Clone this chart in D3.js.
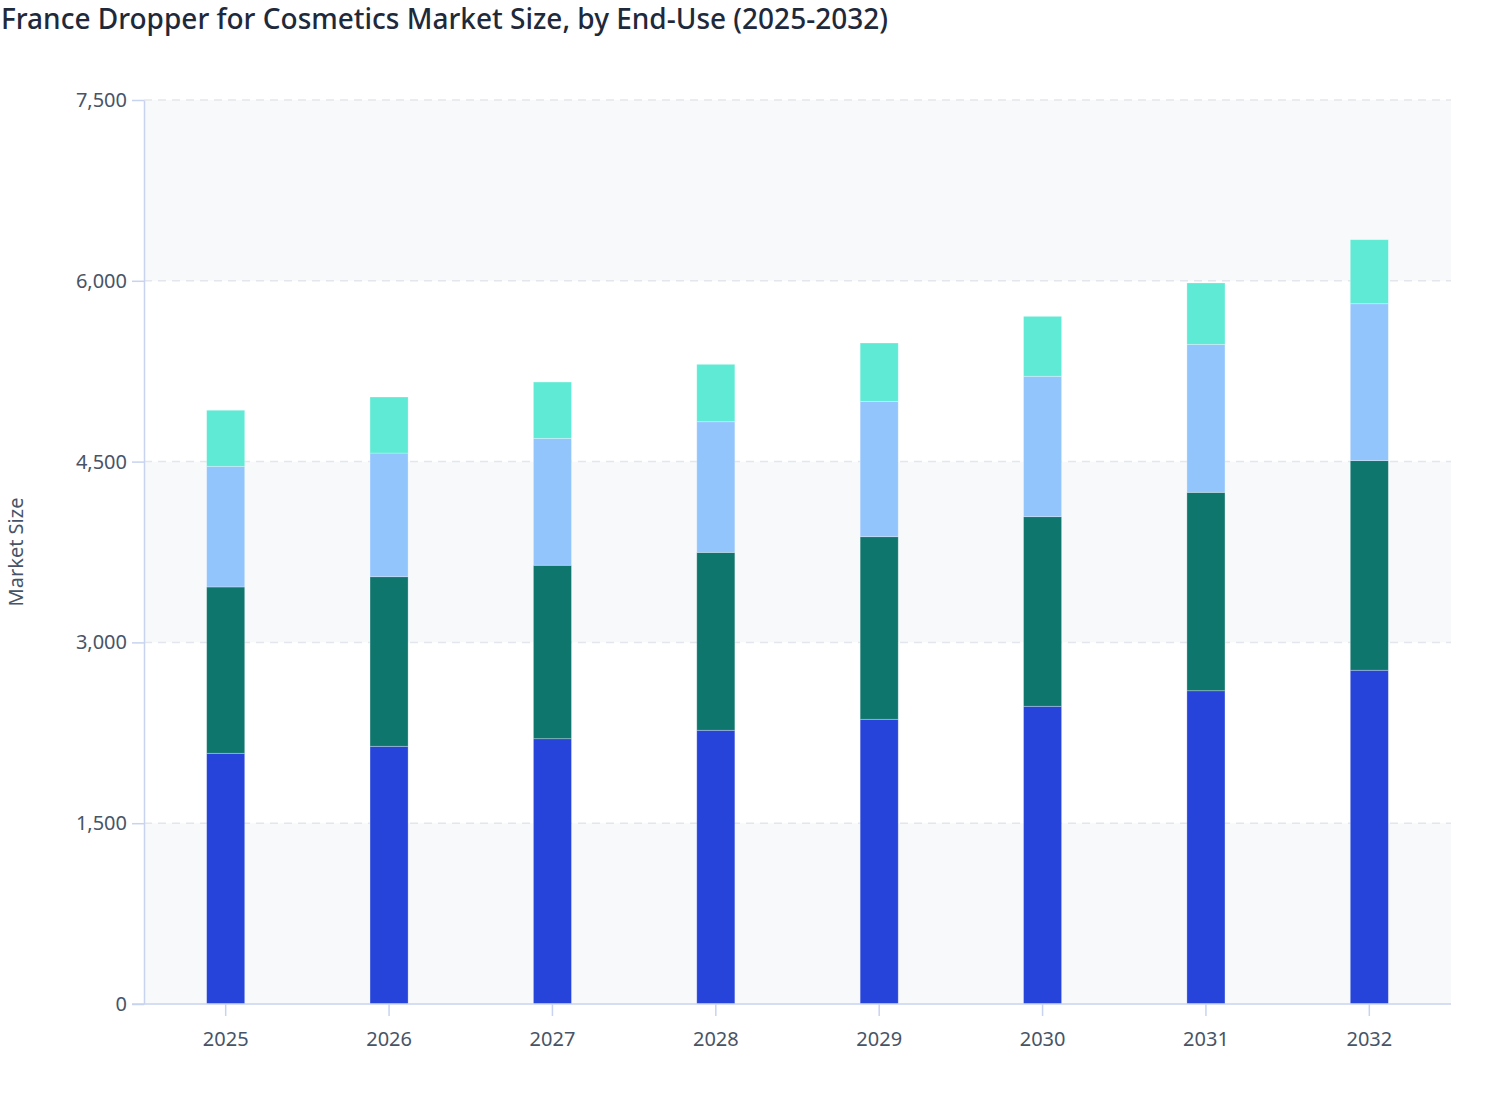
<!DOCTYPE html>
<html>
<head>
<meta charset="utf-8">
<script src="https://cdn.jsdelivr.net/npm/d3@7"></script>
<style>
  body { margin: 0; background: #fff; }
  text { font-family: "Noto Sans", "Open Sans", sans-serif; }
</style>
</head>
<body>
<div id="chart"></div>
<script>
// Data
var years = ["2025", "2026", "2027", "2028", "2029", "2030", "2031", "2032"];
var seriesNames = ["Skincare", "Haircare", "Fragrances", "Others"];
var skincare   = [2080, 2138, 2201, 2271, 2362, 2470, 2599, 2769];
var haircare   = [1380, 1407, 1439, 1476, 1515, 1573, 1646, 1739];
var fragrances = [1001, 1026, 1053, 1084, 1123, 1165, 1228, 1302];
var others     = [465, 465, 467, 476, 484, 497, 509, 531];
var yTicks = [0, 1500, 3000, 4500, 6000, 7500];

var colors = ["#2644d9", "#0f766e", "#93c5fd", "#5eead4"];

var width = 1508, height = 1120;
var margin = { top: 100, right: 57, bottom: 116, left: 144 };
var plotW = width - margin.left - margin.right;
var plotH = height - margin.top - margin.bottom;

var svg = d3.select("#chart")
  .append("svg")
  .attr("width", width)
  .attr("height", height);

// Title
svg.append("text")
  .attr("x", 1)
  .attr("y", 29)
  .attr("fill", "#1e2a3b")
  .style("font-size", "28px")
  .style("font-weight", 500)
  .text("France Dropper for Cosmetics Market Size, by End-Use (2025-2032)");

var g = svg.append("g")
  .attr("transform", `translate(${margin.left},${margin.top})`);

var xScale = d3.scaleBand()
  .domain(years)
  .range([0, plotW])
  .paddingInner(0.767)
  .paddingOuter(0.767 / 2);

var yScale = d3.scaleLinear()
  .domain([0, 7500])
  .range([plotH, 0]);

// alternating background bands
var bands = [];
for (let i = 0; i < yTicks.length - 1; i++) {
  bands.push([yTicks[i], yTicks[i + 1], i]);
}
g.selectAll(".band")
  .data(bands.filter(d => d[2] % 2 == 0))
  .enter()
  .append("rect")
  .attr("x", 0)
  .attr("width", plotW)
  .attr("y", d => yScale(d[1]))
  .attr("height", d => yScale(d[0]) - yScale(d[1]))
  .attr("fill", "#f8f9fb");

// dashed grid
g.selectAll(".grid")
  .data(yTicks.filter(d => d > 0))
  .enter()
  .append("line")
  .attr("x1", 0)
  .attr("x2", plotW)
  .attr("y1", d => yScale(d))
  .attr("y2", d => yScale(d))
  .attr("stroke", "#e3e6ec")
  .attr("stroke-width", 1.5)
  .attr("stroke-dasharray", "8,6");

// stacked data
var rows = years.map((y, i) => ({
  year: y,
  Skincare: skincare[i],
  Haircare: haircare[i],
  Fragrances: fragrances[i],
  Others: others[i]
}));
var stacked = d3.stack().keys(seriesNames)(rows);

g.selectAll(".layer")
  .data(stacked)
  .enter()
  .append("g")
  .attr("fill", (d, i) => colors[i])
  .selectAll("rect")
  .data(d => d)
  .enter()
  .append("rect")
  .attr("x", d => xScale(d.data.year))
  .attr("width", xScale.bandwidth())
  .attr("y", d => yScale(d[1]))
  .attr("height", d => yScale(d[0]) - yScale(d[1]))
  .attr("stroke", "rgba(255,255,255,0.35)")
  .attr("stroke-width", 0.8);

// axes
var yAxis = g.append("g")
  .call(d3.axisLeft(yScale)
    .tickValues(yTicks)
    .tickFormat(d3.format(","))
    .tickSize(12)
    .tickPadding(5)
    .tickSizeOuter(0));

var xAxis = g.append("g")
  .attr("transform", `translate(0,${plotH})`)
  .call(d3.axisBottom(xScale)
    .tickSize(12)
    .tickPadding(16)
    .tickSizeOuter(0));

[xAxis, yAxis].forEach(ax => {
  ax.select(".domain").attr("stroke", "#c8d3f0").attr("stroke-width", 1.5);
  ax.selectAll(".tick line").attr("stroke", "#c8d3f0").attr("stroke-width", 1.5);
  ax.selectAll(".tick text")
    .attr("fill", "#475467")
    .style("font-size", "20px")
    .style("font-family", "'Noto Sans', sans-serif");
});

// x axis line should span the full plot width
xAxis.select(".domain").attr("d", `M-12,0H${plotW}`);

// y axis label
svg.append("text")
  .attr("transform", `translate(23,${margin.top + plotH / 2}) rotate(-90)`)
  .attr("text-anchor", "middle")
  .attr("fill", "#475467")
  .style("font-size", "20px")
  .text("Market Size");
</script>
</body>
</html>
